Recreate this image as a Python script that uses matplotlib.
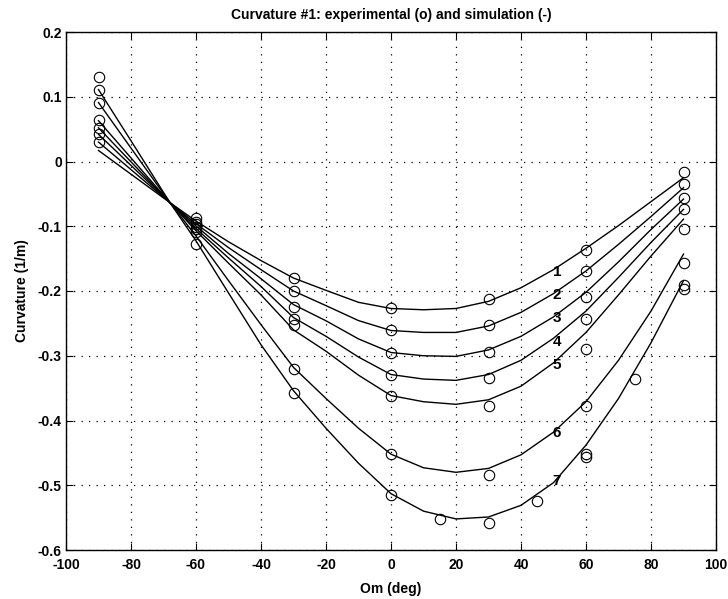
import matplotlib
matplotlib.use("Agg")
import matplotlib.pyplot as plt

plt.rcParams['font.family'] = ['Liberation Sans', 'DejaVu Sans']
plt.rcParams['axes.unicode_minus'] = False

# Simulation curves
x_sim = [-90, -80, -68, -60, -50, -40, -30, -20, -10, 0, 10, 20, 30, 40, 50, 60, 70, 80, 90]
sim_1 = [0.017, -0.0196, -0.0636, -0.092, -0.124, -0.153, -0.180, -0.199, -0.2175, -0.227, -0.229, -0.227, -0.216, -0.195, -0.167, -0.134, -0.099, -0.062, -0.025]
sim_2 = [0.030, -0.0125, -0.0636, -0.096, -0.133, -0.167, -0.200, -0.2226, -0.2457, -0.261, -0.264, -0.264, -0.254, -0.233, -0.204, -0.169, -0.128, -0.085, -0.0405]
sim_3 = [0.042, -0.006, -0.0636, -0.0995, -0.142, -0.181, -0.221, -0.246, -0.274, -0.295, -0.300, -0.301, -0.291, -0.270, -0.240, -0.202, -0.155, -0.105, -0.058]
sim_4 = [0.052, -0.0005, -0.0636, -0.1035, -0.149, -0.193, -0.241, -0.270, -0.302, -0.329, -0.336, -0.338, -0.329, -0.307, -0.273, -0.231, -0.179, -0.125, -0.074]
sim_5 = [0.063, 0.0055, -0.0636, -0.107, -0.157, -0.206, -0.260, -0.293, -0.330, -0.3615, -0.371, -0.375, -0.368, -0.347, -0.311, -0.264, -0.206, -0.146, -0.089]
sim_6 = [0.091, 0.0207, -0.0636, -0.115, -0.184, -0.252, -0.318, -0.366, -0.412, -0.452, -0.473, -0.480, -0.474, -0.453, -0.418, -0.371, -0.307, -0.231, -0.143]
sim_7 = [0.111, 0.032, -0.0636, -0.1226, -0.203, -0.283, -0.354, -0.412, -0.466, -0.513, -0.540, -0.552, -0.549, -0.531, -0.496, -0.438, -0.366, -0.280, -0.184]
sim_curves = [sim_1, sim_2, sim_3, sim_4, sim_5, sim_6, sim_7]

# Experimental points
exp_x = ([-90] * 7 + [-60] * 7 + [-30] * 7 + [0] * 7 + [15] + [30] * 7 + [45]
         + [60] * 8 + [75] + [90] * 8)
exp_y = ([0.130, 0.111, 0.091, 0.0635, 0.052, 0.042, 0.030]
         + [-0.087, -0.093, -0.097, -0.101, -0.105, -0.109, -0.127]
         + [-0.180, -0.1995, -0.224, -0.243, -0.253, -0.320, -0.358]
         + [-0.227, -0.261, -0.295, -0.329, -0.3615, -0.452, -0.515]
         + [-0.552]
         + [-0.213, -0.252, -0.294, -0.334, -0.377, -0.484, -0.558]
         + [-0.525]
         + [-0.136, -0.169, -0.210, -0.243, -0.290, -0.377, -0.451, -0.456]
         + [-0.336]
         + [-0.0165, -0.034, -0.057, -0.073, -0.1035, -0.157, -0.191, -0.197])

# Curve labels
label_text = ['1', '2', '3', '4', '5', '6', '7']
label_x = [51, 51, 51, 51, 51, 51, 51]
label_y = [-0.171, -0.206, -0.241, -0.278, -0.314, -0.420, -0.494]

x_ticks = [-100, -80, -60, -40, -20, 0, 20, 40, 60, 80, 100]
y_ticks = [-0.6, -0.5, -0.4, -0.3, -0.2, -0.1, 0, 0.1, 0.2]
y_tick_labels = ['-0.6', '-0.5', '-0.4', '-0.3', '-0.2', '-0.1', '0', '0.1', '0.2']

fig = plt.figure(figsize=(7.28, 5.99), dpi=100)
ax = fig.add_axes([66 / 728, 49 / 599, 650 / 728, 518 / 599])

for c in sim_curves:
    ax.plot(x_sim, c, color='black', lw=1.0)
ax.plot(exp_x, exp_y, linestyle='none', marker='o', markersize=7.5,
        markerfacecolor='none', markeredgecolor='black', markeredgewidth=0.8)

for t, lx, ly in zip(label_text, label_x, label_y):
    ax.text(lx, ly, t, ha='center', va='center', fontsize=11, fontweight='bold')

ax.set_xlim(-100, 100)
ax.set_ylim(-0.6, 0.2)
ax.set_xticks(x_ticks)
ax.set_xticklabels([str(v) for v in x_ticks])
ax.set_yticks(y_ticks)
ax.set_yticklabels(y_tick_labels)
ax.grid(True, color='black', linestyle=(0, (1, 5)), linewidth=0.9)
ax.tick_params(direction='in', top=True, right=True, length=5, width=0.8,
               labelsize=10)
ax.tick_params(axis='x', pad=6)
ax.tick_params(axis='y', pad=3)
for lab in ax.get_xticklabels() + ax.get_yticklabels():
    lab.set_fontweight('bold')
for s in ax.spines.values():
    s.set_linewidth(1.0)

ax.set_title('Curvature #1: experimental (o) and simulation (-)', fontsize=10,
             fontweight='bold', pad=9)
ax.set_xlabel('Om (deg)', fontsize=10, fontweight='bold', labelpad=7)
ax.set_ylabel('Curvature (1/m)', fontsize=10, fontweight='bold', labelpad=6)

fig.savefig('out.png', dpi=100)
